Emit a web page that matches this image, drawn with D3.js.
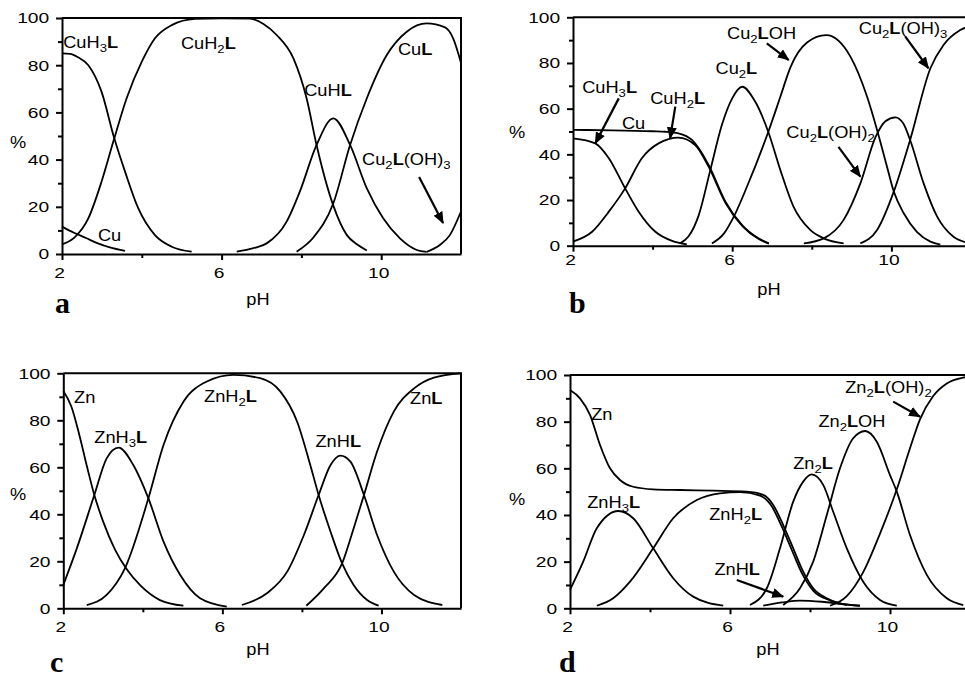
<!DOCTYPE html>
<html>
<head>
<meta charset="utf-8">
<title>Species distribution curves</title>
<style>
  body { margin: 0; background: #fff; }
  svg { display: block; font-family: Arial, "Liberation Sans", sans-serif; }
  .curve { fill: none; stroke: #000; stroke-width: 1.8; }
  .axis path, .axis line { stroke: #000; stroke-width: 2; }
  .axis text { font-size: 15px; fill: #000; font-family: Arial, "Liberation Sans", sans-serif; }
  .lbl { font-size: 16px; fill: #000; }
  .letter { font-family: "Liberation Serif", "Times New Roman", serif; font-weight: bold; font-size: 30px; }
</style>
</head>
<body>
<script src="https://cdn.jsdelivr.net/npm/d3@7"></script>
<script>
// tick values shared by all four panels
const xTicks = [2, 6, 10];
const xMinor = [4, 8];
const yTicks = [0, 20, 40, 60, 80, 100];
const yMinor = [10, 30, 50, 70, 90];

// panel a : Cu, [pH, %]
const aCu = [[2, 11.6], [2.3, 9], [2.6, 6.8], [2.9, 4.5], [3.2, 2.8], [3.58, 1.3]];
const aCuH3L = [[2, 85], [2.2, 84.8], [2.4, 83.4], [2.66, 80], [2.99, 68.8], [3.31, 49], [3.58, 34.9], [3.91, 19.4], [4.33, 8], [4.75, 3.1], [5.25, 1]];
const aCuH2L = [[2, 4.1], [2.33, 7.3], [2.66, 15.1], [2.99, 30.6], [3.31, 49], [3.62, 66], [4, 81.5], [4.33, 91.4], [4.75, 97], [5.33, 99.6], [6, 99.9], [6.71, 99.7], [7.05, 97.5], [7.38, 92.8], [7.8, 82.9], [8.13, 66], [8.38, 46.2], [8.8, 20.5], [9.14, 8], [9.4, 4], [9.64, 1.5]];
const aCuHL = [[6.38, 1], [6.8, 2.5], [7.13, 4.5], [7.63, 13.7], [7.96, 26.4], [8.38, 46.2], [8.8, 57.5], [9.22, 46.2], [9.64, 27.8], [10.05, 15.1], [10.47, 6.6], [10.89, 1.7], [11.14, 0.9]];
const aCuL = [[7.88, 1], [8.3, 7], [8.8, 21.5], [9.22, 46.2], [9.64, 66], [10.14, 84.3], [10.64, 94.2], [11.14, 97.7], [11.6, 96], [11.8, 91.5], [12, 81]];
const aCu2LOH3 = [[11.14, 0.9], [11.47, 3.8], [11.72, 8], [12, 18]];
const aLabels = [["CuH_3L", 2.03, 87.4], ["Cu", 2.9, 5.5], ["CuH_2L", 4.98, 86.7], ["CuHL", 8.07, 67], ["CuL", 10.42, 84.5], ["Cu_2L(OH)_3", 9.52, 37.7]];
const aArrows = [[10.95, 32.6, 11.55, 13.1]];

// panel b : Cu, 2:1
const bCu = [[2, 50.7], [3, 50.5], [4, 50.1], [4.32, 49.9], [4.65, 49.2], [4.99, 46.3], [5.41, 35.3], [5.83, 19.3], [6.25, 9], [6.66, 3.2], [6.92, 1]];
const bCuH3L = [[2, 47], [2.56, 44.8], [2.9, 38.3], [3.31, 25.1], [3.65, 14.9], [4.07, 6.1], [4.49, 2.1], [4.86, 0.6]];
const bCuH2L = [[2, 1.8], [2.48, 6.1], [2.9, 14.9], [3.31, 25.1], [3.73, 38.3], [4.15, 44.8], [4.65, 47.3], [5.07, 44.1], [5.41, 34.5], [5.83, 18.8], [6.25, 8.7], [6.66, 3], [6.92, 0.9]];
const bCu2L = [[4.7, 1.2], [4.9, 4], [5.16, 13.4], [5.45, 33.1], [5.74, 52.8], [6, 64.5], [6.25, 69.6], [6.58, 63], [6.91, 49.7], [7.21, 33.1], [7.54, 17.1], [7.96, 6.9], [8.3, 3.2], [8.8, 1]];
const bCu2LOH = [[5.49, 1], [5.8, 5.5], [6.04, 12.7], [6.37, 25.8], [6.91, 50], [7.21, 65.2], [7.46, 78], [7.88, 89], [8.36, 92.2], [8.97, 82.8], [9.39, 65.2], [9.64, 50.7], [9.89, 34.6], [10.06, 23.7], [10.31, 14.2], [10.64, 6.1], [10.98, 1.8], [11.23, 0.5]];
const bCu2LOH2 = [[7.8, 1], [8.3, 3.2], [8.8, 11.3], [9.22, 27.3], [9.6, 47.5], [9.85, 54.5], [10.1, 56.2], [10.3, 53.5], [10.47, 46.3], [10.81, 27.3], [11.15, 12.7], [11.56, 3.9], [11.86, 1.5]];
const bCu2LOH3 = [[9.22, 1], [9.64, 6.9], [10.06, 23.7], [10.47, 46.3], [10.98, 77.7], [11.31, 87.9], [11.73, 94.4], [12, 96.5]];
const bLabels = [["CuH_3L", 2.23, 66.9], ["Cu", 3.23, 51.1], ["CuH_2L", 3.94, 62], ["Cu_2L", 5.58, 75.2], ["Cu_2LOH", 5.87, 90.5], ["Cu_2L(OH)_2", 7.36, 47.2], ["Cu_2L(OH)_3", 9.18, 92.7]];
const bArrows = [[3.15, 64.5, 2.56, 44.8], [4.57, 60.9, 4.44, 47], [6.87, 88.6, 7.42, 81.3], [8.67, 43.3, 9.22, 30.2], [10.35, 91.5, 10.93, 77.7]];

// panel c : Zn
const cZn = [[2, 92.5], [2.2, 86], [2.4, 74], [2.6, 60], [2.78, 48.2], [3, 37], [3.3, 25], [3.6, 16.5], [3.95, 9.5], [4.43, 3.5], [5.02, 1.1]];
const cZnH3L = [[2, 9.9], [2.34, 25.5], [2.78, 48.2], [3.09, 63.8], [3.39, 68.4], [3.76, 61], [4.14, 46.8], [4.52, 28.4], [4.94, 14.2], [5.44, 4.3], [6.11, 0.7]];
const cZnH2L = [[2.59, 1.4], [3.09, 5.7], [3.55, 17], [4.14, 46.8], [4.52, 69.5], [5.02, 87.9], [5.61, 96.5], [6.28, 99.3], [6.95, 97.9], [7.46, 92.2], [7.88, 79.4], [8.21, 61], [8.42, 48.2], [8.72, 32.6], [9.01, 19.1], [9.3, 9.9], [9.64, 3.5], [9.93, 1.1]];
const cZnHL = [[6.49, 1.4], [7.12, 6.4], [7.63, 15.6], [8.05, 31.2], [8.42, 48.2], [8.72, 61], [8.97, 65], [9.22, 62.4], [9.56, 48.2], [9.89, 31.2], [10.31, 15.6], [10.82, 5.7], [11.53, 1.4]];
const cZnL = [[8.11, 1.1], [8.55, 8.5], [9.01, 19.1], [9.3, 34], [9.56, 48.2], [9.89, 66.7], [10.31, 83.7], [10.82, 93.6], [11.32, 98.2], [12, 100]];
const cLabels = [["Zn", 2.27, 87.4], ["ZnH_3L", 2.78, 70.3], ["ZnH_2L", 5.54, 87.9], ["ZnHL", 8.34, 68.8], ["ZnL", 10.72, 86.9]];
const cArrows = [];

// panel d : Zn, 2:1
const dZn = [[2, 93.6], [2.25, 90], [2.5, 82.9], [2.75, 70], [3, 60], [3.25, 55], [3.58, 52.1], [4.08, 51], [4.75, 50.7], [5.58, 50.4], [6.42, 50], [6.83, 48.6], [7.08, 44.3], [7.33, 35.7], [7.58, 25.7], [7.83, 15.7], [8.08, 8.6], [8.42, 4.3], [8.75, 2.1], [9.25, 1.1]];
const dZnH3L = [[2, 7.9], [2.33, 20], [2.67, 34.3], [3.21, 41.7], [3.58, 38.6], [4.08, 25.7], [4.58, 12.9], [5.08, 5], [5.83, 1.1]];
const dZnH2L = [[2.67, 1.1], [3.08, 4.3], [3.5, 11.4], [4.08, 25.7], [4.58, 38.6], [5.17, 46.4], [5.75, 49.3], [6.25, 49.8], [6.75, 48.3], [7.04, 43.8], [7.29, 35.2], [7.54, 25.2], [7.79, 15.3], [8.08, 7.6], [8.5, 3.4], [8.92, 1.4]];
const dZnHL = [[6.83, 1.1], [7.3, 2.5], [7.75, 3.3], [8.3, 2.8], [8.8, 1.8], [9.25, 1.1]];
const dZn2L = [[6.5, 1.4], [6.92, 8.6], [7.25, 25.7], [7.58, 45.7], [7.83, 54.3], [8.04, 57.4], [8.33, 52.9], [8.58, 41.4], [8.92, 25.7], [9.33, 11.4], [9.75, 3.6], [10.17, 1.1]];
const dZn2LOH = [[7.33, 1.4], [7.75, 8.6], [8.08, 20], [8.42, 40], [8.75, 60], [9.08, 72.9], [9.38, 76], [9.67, 71.4], [10, 57.1], [10.17, 50], [10.5, 31.4], [10.92, 14.3], [11.42, 4.3], [11.83, 1.4]];
const dZn2LOH2 = [[8.5, 1.1], [8.92, 5.2], [9.33, 15.5], [9.75, 32], [10.17, 51], [10.5, 68.6], [10.75, 81], [11.08, 91], [11.42, 96.4], [11.83, 98.9], [12, 99.3]];
const dLabels = [["Zn", 2.53, 80.7], ["ZnH_3L", 2.43, 43], ["ZnH_2L", 5.48, 37.8], ["ZnHL", 5.61, 14.3], ["Zn_2L", 7.58, 59.7], ["Zn_2LOH", 8.21, 77.8], ["Zn_2L(OH)_2", 8.88, 92.3]];
const dArrows = [[6.17, 12.1, 7.33, 5], [10.08, 88.6, 10.75, 82.1]];

// layout of the four panels (pixels)
const panels = [
  { letter: "a", box: { l: 62, r: 461, t: 18, b: 254 }, pad: 7,
    series: [aCu, aCuH3L, aCuH2L, aCuHL, aCuL, aCu2LOH3], labels: aLabels, arrows: aArrows,
    ph: [258, 305], pct: [18, 148], let: [55, 313] },
  { letter: "b", box: { l: 573, r: 971, t: 17.3, b: 245.7 }, pad: 3,
    series: [bCu, bCuH3L, bCuH2L, bCu2L, bCu2LOH, bCu2LOH2, bCu2LOH3], labels: bLabels, arrows: bArrows,
    ph: [769, 295], pct: [517, 138], let: [569, 313] },
  { letter: "c", box: { l: 63.3, r: 461, t: 373.3, b: 608.3 }, pad: 7,
    series: [cZn, cZnH3L, cZnH2L, cZnHL, cZnL], labels: cLabels, arrows: cArrows,
    ph: [258, 655], pct: [18, 500], let: [50, 672] },
  { letter: "d", box: { l: 570, r: 970, t: 375, b: 608.3 }, pad: 7,
    series: [dZn, dZnH3L, dZnH2L, dZnHL, dZn2L, dZn2LOH, dZn2LOH2], labels: dLabels, arrows: dArrows,
    ph: [768, 655], pct: [517, 505], let: [559, 672] }
];

const svg = d3.select("body").append("svg")
  .attr("width", 965)
  .attr("height", 677);

svg.append("rect").attr("width", 965).attr("height", 677).attr("fill", "#fff");

svg.append("defs").append("marker")
  .attr("id", "arrow")
  .attr("markerUnits", "userSpaceOnUse")
  .attr("markerWidth", 12).attr("markerHeight", 10)
  .attr("refX", 11).attr("refY", 5)
  .attr("orient", "auto")
  .append("path")
  .attr("d", "M0,0 L12,5 L0,10 Z")
  .attr("fill", "#000");

// writes a formula, "_" gives a subscript and the ligand L is bold
function formula(sel, str, x, y) {
  const t = sel.append("text")
    .attr("class", "lbl")
    .attr("transform", "translate(" + x + "," + y + ") scale(1.14,1)");
  let shift = 0;
  str.match(/_.|L|[^_L]+/g).forEach(function(tok) {
    const sub = tok[0] === "_";
    const txt = sub ? tok[1] : tok;
    const target = sub ? 4 : 0;
    const ts = t.append("tspan").text(txt).attr("dy", target - shift);
    shift = target;
    if (sub) ts.attr("font-size", "11.5px");
    if (txt === "L") ts.attr("font-weight", "bold");
  });
}

panels.forEach(function(p) {
  const x = d3.scaleLinear().domain([2, 12]).range([p.box.l, p.box.r]);
  const y = d3.scaleLinear().domain([0, 100]).range([p.box.b, p.box.t]);
  const g = svg.append("g");

  const line = d3.line()
    .x(function(d) { return x(d[0]); })
    .y(function(d) { return y(d[1]); })
    .curve(d3.curveMonotoneX);

  g.selectAll("path.curve")
    .data(p.series)
    .join("path")
    .attr("class", "curve")
    .attr("d", line);

  // top and right side of the frame
  g.append("path")
    .attr("d", "M" + x(2) + "," + y(100) + "H" + x(12) + "V" + y(0))
    .attr("fill", "none")
    .attr("stroke", "#000")
    .attr("stroke-width", 2);

  // minor ticks
  g.append("g").attr("class", "axis")
    .attr("transform", "translate(" + p.box.l + ",0)")
    .call(d3.axisLeft(y).tickValues(yMinor).tickSize(4).tickFormat(""))
    .select(".domain").remove();
  g.append("g").attr("class", "axis")
    .attr("transform", "translate(0," + p.box.b + ")")
    .call(d3.axisBottom(x).tickValues(xMinor).tickSize(4).tickFormat(""))
    .select(".domain").remove();

  const ya = g.append("g").attr("class", "axis")
    .attr("transform", "translate(" + p.box.l + ",0)")
    .call(d3.axisLeft(y).tickValues(yTicks).tickSize(6).tickSizeOuter(0).tickPadding(4));
  ya.selectAll("text").attr("transform", "scale(1.28,1)");

  const xa = g.append("g").attr("class", "axis")
    .attr("transform", "translate(0," + p.box.b + ")")
    .call(d3.axisBottom(x).tickValues(xTicks).tickSize(6).tickSizeOuter(0).tickPadding(p.pad));
  xa.selectAll("text").attr("transform", "translate(-3,0) scale(1.28,1)");

  // species labels and arrows
  p.labels.forEach(function(l) { formula(g, l[0], x(l[1]), y(l[2])); });

  g.selectAll("line.arr")
    .data(p.arrows)
    .join("line")
    .attr("class", "arr")
    .attr("x1", function(d) { return x(d[0]); })
    .attr("y1", function(d) { return y(d[1]); })
    .attr("x2", function(d) { return x(d[2]); })
    .attr("y2", function(d) { return y(d[3]); })
    .attr("stroke", "#000")
    .attr("stroke-width", 2.2)
    .attr("marker-end", "url(#arrow)");

  // axis titles and panel letter
  g.append("text").attr("class", "lbl")
    .attr("text-anchor", "middle")
    .attr("transform", "translate(" + p.ph[0] + "," + p.ph[1] + ") scale(1.14,1)")
    .text("pH");
  g.append("text").attr("class", "lbl")
    .attr("text-anchor", "middle")
    .attr("transform", "translate(" + p.pct[0] + "," + p.pct[1] + ") scale(1.14,1)")
    .text("%");
  g.append("text").attr("class", "letter")
    .attr("x", p.let[0]).attr("y", p.let[1])
    .text(p.letter);
});
</script>
</body>
</html>
